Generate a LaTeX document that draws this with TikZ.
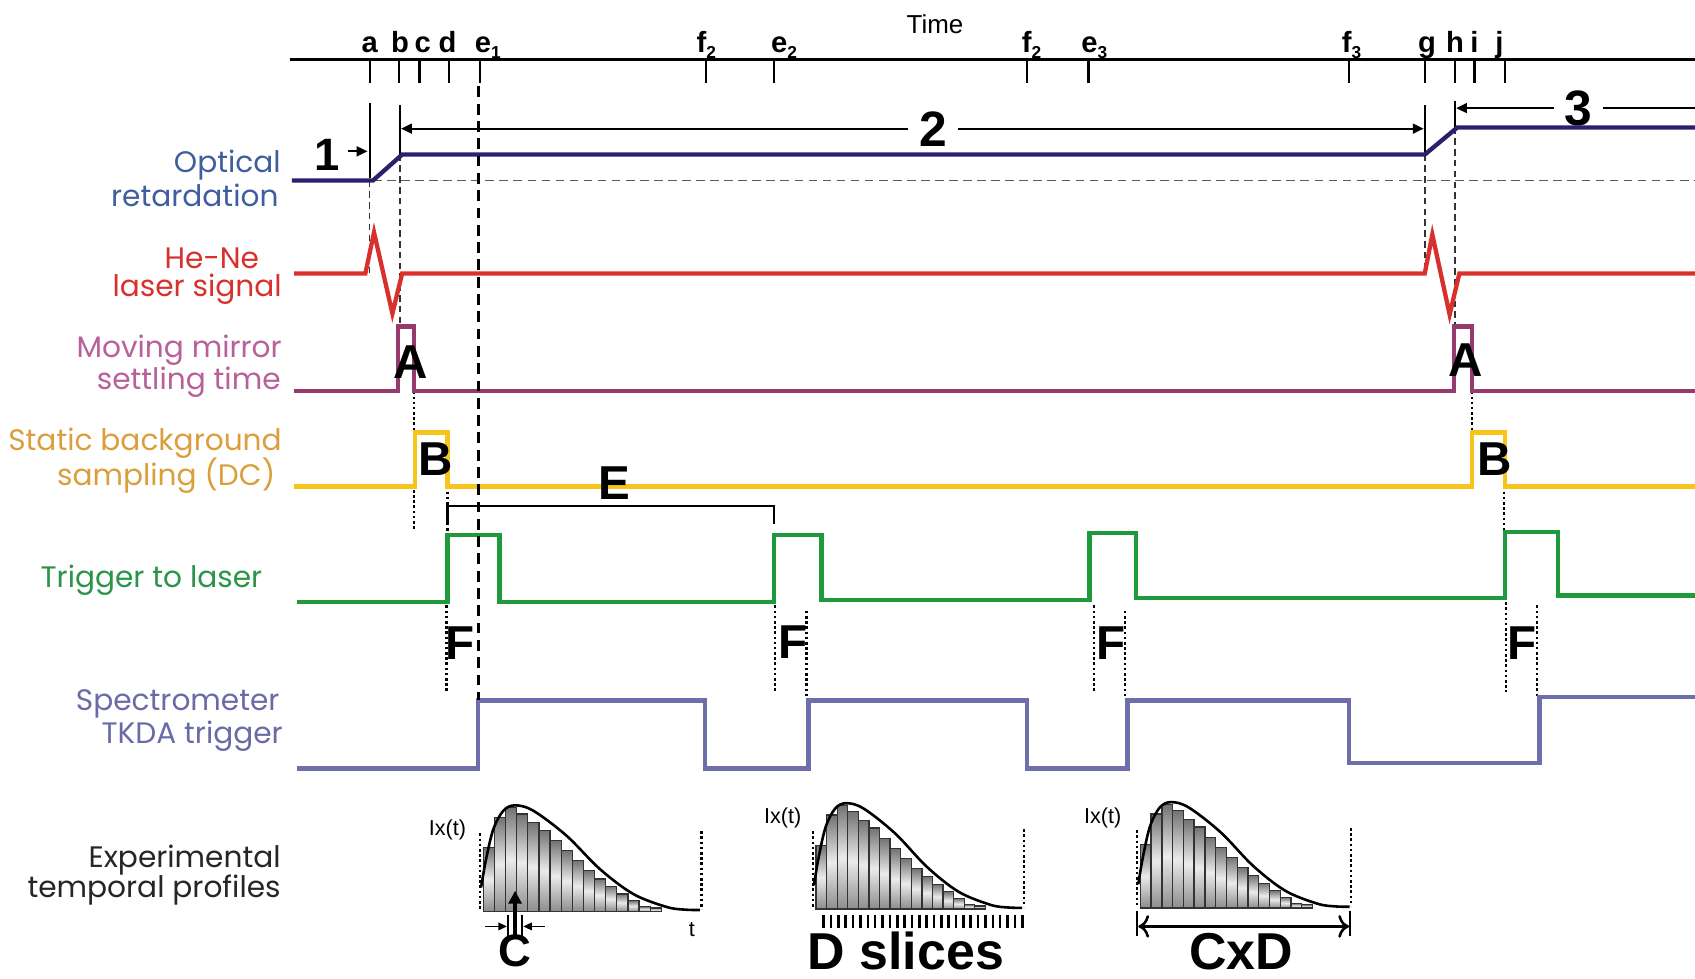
\documentclass[tikz,border=0pt]{standalone}
\usepackage{fontspec}
\setmainfont{Liberation Sans}
\newfontfamily\lblfont{Poppins}
\usetikzlibrary{arrows.meta}
\definecolor{optline}{HTML}{2C1F6E}
\definecolor{optlbl}{HTML}{3F5E9E}
\definecolor{heneln}{HTML}{D8312D}
\definecolor{mirline}{HTML}{963A6E}
\definecolor{mirlbl}{HTML}{B8609A}
\definecolor{dcline}{HTML}{F7C51A}
\definecolor{dclbl}{HTML}{DA9F3C}
\definecolor{trgline}{HTML}{1E9A3C}
\definecolor{trglbl}{HTML}{2A9548}
\definecolor{spline}{HTML}{6E6EAA}
\definecolor{splbl}{HTML}{6A6AA8}
\newcommand\lowidx[1]{\raisebox{-2.5pt}{\fontsize{8}{8}\selectfont #1}}
\newcommand\tprofile{%
  \foreach \h [count=\i from 0] in {59,87,96,90,82,75,65.5,56,47,37.5,30,23,16,9.8,4.2,3}
    {\shadedraw[draw=black!80, line width=0.6pt, top color=black!55, bottom color=black!45, middle color=black!8] (3+\i*10.3,0) rectangle ++(10.3,-\h);}
  \draw[line width=1.2pt] plot[smooth, tension=0.55] coordinates {(1,-22) (5.6,-48) (12.4,-76) (21.6,-93) (32.4,-98) (49.4,-93) (80,-70) (111,-39) (141.8,-16) (172.7,-4) (190,-1.5) (203.5,-1.2)};
  \draw[dotln] (0,-72) -- (0,-2);
  \draw[dotln] (205,-74) -- (205,-2);
}
\begin{document}
\begin{tikzpicture}[x=0.5pt,y=-0.5pt,
  sig/.style={line width=2pt},
  rowlbl/.style={anchor=east, inner sep=0pt, font=\lblfont\fontsize{13.7}{15}\selectfont},
  tk/.style={line width=1pt},
  tklbl/.style={anchor=base, inner sep=0pt, font=\bfseries\fontsize{13.5}{15}\selectfont},
  tklbls/.style={anchor=base west, inner sep=0pt, font=\bfseries\fontsize{13.5}{15}\selectfont},
  bigl/.style={inner sep=0pt, font=\bfseries\fontsize{22}{24}\selectfont},
  num/.style={inner xsep=5pt, inner ysep=0pt, fill=white, font=\bfseries\fontsize{23}{25}\selectfont},
  thindash/.style={line width=0.7pt, dash pattern=on 3pt off 2pt, black!80},
  thickdash/.style={line width=1.3pt, dash pattern=on 5pt off 3pt},
  dotln/.style={line width=1pt, dash pattern=on 1.2pt off 1.2pt},
  mbar/.style={line width=1pt},
  small/.style={inner sep=0pt, font=\fontsize{10}{12}\selectfont},
]
\useasboundingbox (0,0) rectangle (1568,905);

% time axis
\draw[line width=1.2pt] (268,55) -- (1568,55);
\node[inner sep=0pt, font=\fontsize{12}{14}\selectfont] (time) at (865,22) {Time};
\foreach \x in {342,369,388,415,444,653,716,950,1007,1248,1318,1346,1364,1392}
  \draw[tk] (\x,55) -- (\x,77);
\node[tklbl] (la) at (342,49) {a};
\node[tklbl] (lb) at (370,49) {b};
\node[tklbl] (lc) at (391,49) {c};
\node[tklbl] (ld) at (414,49) {d};
\node[tklbls] (le1) at (439,49) {e\lowidx{1}};
\node[tklbls] (lf2) at (644,49) {f\lowidx{2}};
\node[tklbls] (le2) at (713,49) {e\lowidx{2}};
\node[tklbls] (lf2b) at (945,49) {f\lowidx{2}};
\node[tklbls] (le3) at (1000,49) {e\lowidx{3}};
\node[tklbls] (lf3) at (1241,49) {f\lowidx{3}};
\node[tklbl] (lg) at (1320,49) {g};
\node[tklbl] (lh) at (1346,49) {h};
\node[tklbl] (li) at (1364,49) {i};
\node[tklbl] (lj) at (1387,49) {j};

% row labels
\node[rowlbl, text=optlbl] (r1a) at (260,153) {Optical};
\node[rowlbl, text=optlbl] (r1b) at (258,181) {retardation};
\node[rowlbl, text=heneln] (r2a) at (240,239) {He-Ne};
\node[rowlbl, text=heneln] (r2b) at (261,268) {laser signal};
\node[rowlbl, text=mirlbl] (r3a) at (261,324) {Moving mirror};
\node[rowlbl, text=mirlbl] (r3b) at (260,354) {settling time};
\node[rowlbl, text=dclbl] (r4a) at (261,410) {Static background};
\node[rowlbl, text=dclbl] (r4b) at (255,440) {sampling (DC)};
\node[rowlbl, text=trglbl] (r5) at (243,537) {Trigger to laser};
\node[rowlbl, text=splbl] (r6a) at (259,651) {Spectrometer};
\node[rowlbl, text=splbl] (r6b) at (262,681) {TKDA trigger};
\node[rowlbl, text=black!85] (r7a) at (260,796) {Experimental};
\node[rowlbl, text=black!85] (r7b) at (260,823) {temporal profiles};

% markers 1, 2, 3
\coordinate (m1s) at (322,140);
\coordinate (m1e) at (340,140);
\draw[mbar] (342,95) -- (342,165);
\node[inner sep=0pt, font=\bfseries\fontsize{21}{23}\selectfont] (n1) at (303,143) {1};
\draw[line width=1pt, -{Triangle[length=5pt,width=4.5pt]}] (m1s) -- (m1e);
\draw[mbar] (370,97) -- (370,143);
\draw[mbar] (1318,97) -- (1318,143);
\draw[line width=1pt, {Triangle[length=5pt,width=4.5pt]}-{Triangle[length=5pt,width=4.5pt]}] (371,119) -- (1317,119);
\node[num] (n2) at (863,119) {2};
\draw[mbar] (1346,93) -- (1346,118);
\draw[line width=1pt, {Triangle[length=5pt,width=4.5pt]}-] (1347,100) -- (1568,100);
\node[num] (n3) at (1460,100) {3};

% guide lines
\draw[line width=0.7pt, black!65, dash pattern=on 4pt off 2.5pt] (345,167) -- (1568,167);
\draw[thindash] (342,167) -- (342,253);
\draw[thindash] (370,143) -- (370,302);
\draw[thindash] (1318,143) -- (1318,253);
\draw[thindash] (1346,118) -- (1346,302);
\draw[dotln] (383,362) -- (383,490);
\draw[dotln] (414,450) -- (414,495);
\draw[dotln] (1362,362) -- (1362,400);
\draw[dotln] (1391,450) -- (1391,492);
\foreach \x/\t/\b in {413/560/640, 717/560/640, 746/565/645, 1012/560/640, 1041/565/645, 1393/557/640, 1422/560/645}
  \draw[dotln] (\x,\t) -- (\x,\b);

% signals
\draw[sig, optline] (270,167) -- (345,167) -- (372,143) -- (1318,143) -- (1348,118) -- (1568,118);
\draw[sig, heneln] (272,253) -- (338,253) -- (346,215) -- (363,290) -- (372,253) -- (1318,253) -- (1325,217) -- (1341,291) -- (1350,253) -- (1568,253);
\draw[sig, mirline] (272,362) -- (368,362) -- (368,302) -- (383,302) -- (383,362) -- (1345,362) -- (1345,302) -- (1362,302) -- (1362,362) -- (1568,362);
\draw[sig, dcline] (272,450) -- (384,450) -- (384,400) -- (414,400) -- (414,450) -- (1362,450) -- (1362,400) -- (1392,400) -- (1392,450) -- (1568,450);
\draw[sig, trgline] (275,557) -- (414,557) -- (414,495) -- (462,495) -- (462,557) -- (716,557) -- (716,495) -- (760,495) -- (760,555) -- (1008,555) -- (1008,493) -- (1051,493) -- (1051,553) -- (1392,553) -- (1392,492) -- (1441,492) -- (1441,551) -- (1568,551);
\draw[sig, spline] (275,711) -- (442,711) -- (442,648) -- (652,648) -- (652,711) -- (748,711) -- (748,648) -- (950,648) -- (950,711) -- (1043,711) -- (1043,648) -- (1248,648) -- (1248,706) -- (1424,706) -- (1424,645) -- (1568,645);

\draw[thickdash] (443,80) -- (443,648);

% E bracket
\draw[line width=1pt] (414,485) -- (414,468) -- (716,468) -- (716,485);
\node[bigl] (lE) at (568,447) {E};

% letters
\node[bigl] (lA1) at (380,335) {A};
\node[bigl] (lA2) at (1356,333) {A};
\node[bigl] (lB1) at (403,425) {B};
\node[bigl] (lB2) at (1383,425) {B};
\node[bigl] (lF1) at (426,595) {F};
\node[bigl] (lF2) at (734,594) {F};
\node[bigl] (lF3) at (1028,595) {F};
\node[bigl] (lF4) at (1408,595) {F};

% profiles
\begin{scope}[shift={(444,843)}] \tprofile \end{scope}
\begin{scope}[shift={(752,841)}, xscale=0.951] \tprofile \end{scope}
\begin{scope}[shift={(1052,840)}, xscale=0.966] \tprofile \end{scope}

\node[small] (ix1) at (414,768) {Ix(t)};
\node[small] (ix2) at (724,757) {Ix(t)};
\node[small] (ix3) at (1020,757) {Ix(t)};
\node[small] (tt) at (640,860) {t};

% C marks
\draw[line width=1pt] (470,846) -- (470,866);
\draw[line width=1pt] (483,846) -- (483,866);
\draw[line width=0.8pt, -{Triangle[length=4pt,width=3.5pt]}] (449,857) -- (469,857);
\draw[line width=0.8pt, -{Triangle[length=4pt,width=3.5pt]}] (504,857) -- (484,857);
\draw[line width=1.8pt, -{Triangle[length=6pt,width=6pt]}] (476.5,866) -- (476.5,824);
\node[inner sep=0pt, font=\bfseries\fontsize{21}{23}\selectfont] (lC) at (476,880) {C};

% D slices ticks
\foreach \k in {0,...,27}
  \draw[line width=1.2pt] (762+\k*6.8,846) -- ++(0,12);
\node[inner sep=0pt, font=\bfseries\fontsize{24}{26}\selectfont] (lD) at (838,880) {D slices};

% CxD
\draw[line width=1pt] (1052,843) -- (1052,866);
\draw[line width=1pt] (1249,843) -- (1249,866);
\draw[line width=1.2pt, {To[length=5pt]}-{To[length=5pt]}] (1053,857) -- (1248,857);
\node[inner sep=0pt, font=\bfseries\fontsize{24}{26}\selectfont] (lCD) at (1148,880) {CxD};
\end{tikzpicture}
\end{document}
